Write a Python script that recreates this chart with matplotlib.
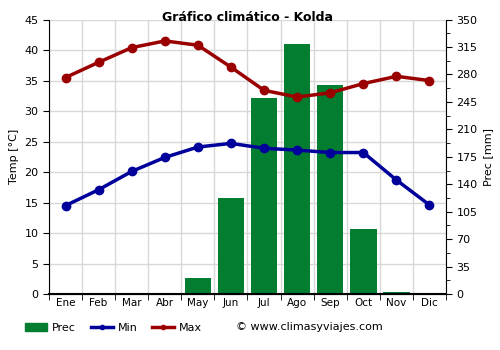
import matplotlib
matplotlib.use("Agg")
import matplotlib.pyplot as plt
import numpy as np
from matplotlib.ticker import MultipleLocator
from matplotlib.patches import Patch
from matplotlib.lines import Line2D

months = ["Ene", "Feb", "Mar", "Abr", "May", "Jun", "Jul", "Ago", "Sep", "Oct", "Nov", "Dic"]
t_max = [35.5, 38.0, 40.4, 41.5, 40.8, 37.2, 33.4, 32.3, 33.0, 34.5, 35.7, 35.0]
t_min = [14.5, 17.1, 20.1, 22.4, 24.1, 24.7, 23.9, 23.6, 23.2, 23.2, 18.7, 14.6]
prec = [0, 0, 0.5, 0, 21, 123, 250, 319, 266, 83, 2.5, 0]

C_PREC = "#037d30"
C_MIN = "#00009a"
C_MAX = "#9a0000"

fig = plt.figure(figsize=(5, 3.5), dpi=100)
ax = fig.add_axes([0.098, 0.16, 0.794, 0.784])
ax2 = ax.twinx()

x = np.arange(len(months))
ax2.bar(x, prec, width=0.8, color=C_PREC, zorder=2)
ax2.set_ylim(0, 350)
ax2.set_yticks(np.arange(0, 351, 35))
ax2.yaxis.set_minor_locator(MultipleLocator(17.5))
ax2.set_ylabel("Prec [mm]", fontsize=8)

ax.set_zorder(ax2.get_zorder() + 1)
ax.patch.set_visible(False)
ax2.patch.set_visible(True)
ax2.patch.set_facecolor("white")

ax.plot(x, t_min, color=C_MIN, lw=2.5, marker="o", ms=6, zorder=3)
ax.plot(x, t_max, color=C_MAX, lw=2.5, marker="o", ms=6, zorder=3)
ax.set_ylim(0, 45)
ax.set_yticks(np.arange(0, 46, 5))
ax.set_xlim(-0.5, 11.5)
ax.set_xticks(x)
ax.set_xticklabels(months)
ax.set_xticks(np.arange(-0.5, 12, 1), minor=True)
ax.tick_params(axis="x", which="major", length=0, labelsize=7.5, pad=3)
ax.tick_params(axis="x", which="minor", length=4)
ax.tick_params(axis="y", labelsize=8, length=4)
ax2.tick_params(axis="y", labelsize=8, length=4)
ax2.tick_params(axis="y", which="minor", length=3)
ax.set_ylabel("Temp [°C]", fontsize=8)

for yv in np.arange(0, 46, 5):
    ax2.axhline(yv * 350 / 45, color="#d8d8d8", lw=1, zorder=0)
for xv in np.arange(-0.5, 12, 1):
    ax2.axvline(xv, color="#d8d8d8", lw=1, zorder=0)

for a in (ax, ax2):
    a.spines["top"].set_visible(False)
ax.spines["right"].set_visible(False)
ax2.spines["left"].set_visible(False)
ax.spines["bottom"].set_linewidth(1.5)

fig.text(0.495, 0.951, "Gráfico climático - Kolda", fontsize=9, fontweight="bold",
         ha="center", va="center")

handles = [Patch(color=C_PREC),
           Line2D([], [], color=C_MIN, lw=2.5, marker="o", ms=3),
           Line2D([], [], color=C_MAX, lw=2.5, marker="o", ms=3)]
fig.legend(handles, ["Prec", "Min", "Max"], loc="lower left", bbox_to_anchor=(0.03, 0.02),
           ncol=3, frameon=False, fontsize=8, handlelength=2.0, columnspacing=1.3,
           handletextpad=0.45)
fig.text(0.472, 0.066, "© www.climasyviajes.com", fontsize=8, va="center")

fig.savefig("out.png", dpi=100)
